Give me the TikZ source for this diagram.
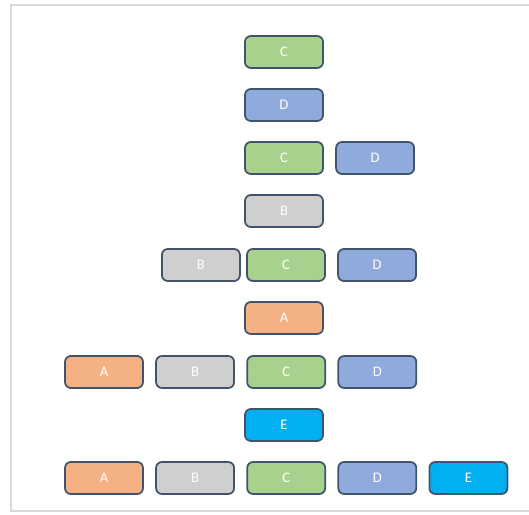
\documentclass[tikz,border=0pt]{standalone}
\usepackage{fontspec}
\setmainfont{Carlito}
\usepackage{xcolor}
\definecolor{edgeSlate}{HTML}{41546B}
\definecolor{fillA}{HTML}{F4B183}
\definecolor{fillB}{HTML}{CFCFCF}
\definecolor{fillC}{HTML}{A9D18E}
\definecolor{fillD}{HTML}{8FAADC}
\definecolor{fillE}{HTML}{00B0F0}
\definecolor{frameGray}{HTML}{D9D9D9}
\usetikzlibrary{positioning}

\begin{document}
\begin{tikzpicture}[
            x=0.03cm, y=-0.03cm,
            node distance=0.34cm,
            box/.style={
                draw=edgeSlate,
                rectangle,
                rounded corners=5pt,
                minimum width=2.34cm,
                minimum height=0.96cm,
                inner sep=0pt,
                line width=1.5pt,
                text=white,
                font=\fontsize{12.5}{14}\selectfont
            },
            boxA/.style={box, fill=fillA},
            boxB/.style={box, fill=fillB},
            boxC/.style={box, fill=fillC},
            boxD/.style={box, fill=fillD},
            boxE/.style={box, fill=fillE}
        ]
            \useasboundingbox (0,0) rectangle (529,515);
            % frame
            \draw[frameGray, line width=2.5pt] (529,5) -- (11,5) -- (11,511) -- (529,511);
            
            \node (c1) [boxC] at (284,52) {C};
            \node (d1) [boxD] at (284,105) {D};
            
            \node (c2) [boxC] at (284,158) {C};
            \node (d2) [boxD, right=of c2] {D};
            
            \node (b1) [boxB] at (284,211) {B};
            
            \node (c3) [boxC] at (286,265) {C};
            \node (b3) [boxB, left=0.16cm of c3] {B};
            \node (d3) [boxD, right=of c3] {D};
            
            \node (a1) [boxA] at (284,318) {A};
            
            \node (a4) [boxA] at (104,372) {A};
            \node (b4) [boxB, right=of a4] {B};
            \node (c4) [boxC, right=of b4] {C};
            \node (d4) [boxD, right=of c4] {D};
            
            \node (e1) [boxE] at (284,425) {E};
            
            \node (a5) [boxA] at (104,478) {A};
            \node (b5) [boxB, right=of a5] {B};
            \node (c5) [boxC, right=of b5] {C};
            \node (d5) [boxD, right=of c5] {D};
            \node (e5) [boxE, right=of d5] {E};
        \end{tikzpicture}
\end{document}
